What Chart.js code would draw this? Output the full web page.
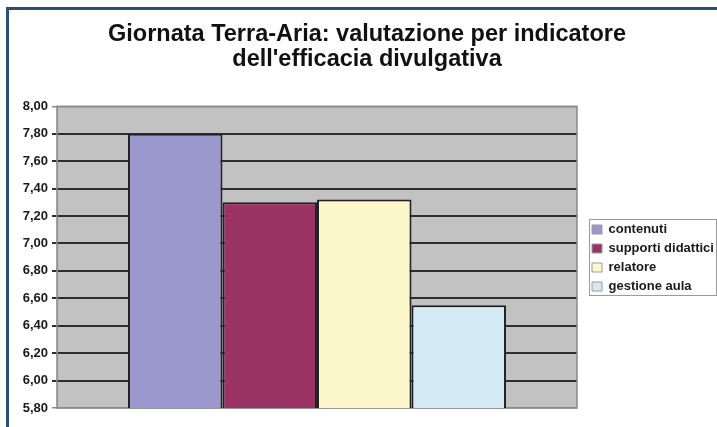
<!DOCTYPE html>
<html>
<head>
<meta charset="utf-8">
<script src="https://cdn.jsdelivr.net/npm/chart.js@4.4.1/dist/chart.umd.min.js"></script>
<style>
  html, body { margin: 0; padding: 0; background: #ffffff; }
  #wrap { position: relative; width: 717px; height: 427px; }
  #frame { position: absolute; left: 6px; top: 7px; right: 0; bottom: 0;
           border-top: 3px solid #2b5078; border-left: 3px solid #2b5078; pointer-events: none; }
</style>
</head>
<body>
<div id="wrap">
  <canvas id="c" width="717" height="427"></canvas>
  <div id="frame"></div>
</div>
<script>
// ---- data ----
const titleLines = ["Giornata Terra-Aria: valutazione per indicatore", "dell'efficacia divulgativa"];
const categories = [""];
const seriesNames = ["contenuti", "supporti didattici", "relatore", "gestione aula"];
const seriesValues = [7.80, 7.30, 7.32, 6.55];
const seriesColors = ["#9a98cc", "#9c3365", "#fcf8cc", "#d3ecf4"];
const yTicks = [5.80, 6.00, 6.20, 6.40, 6.60, 6.80, 7.00, 7.20, 7.40, 7.60, 7.80, 8.00];

const datasets = seriesNames.map((name, i) => ({
  label: name,
  data: [seriesValues[i]],
  backgroundColor: seriesColors[i],
  borderColor: "#222222",
  borderWidth: 2,
  borderSkipped: false
}));

const LEG = { left: 586, top: 206, right: 717, bottom: 310 };

const framePlugin = {
  id: "framePlugin",
  beforeLayout(chart) {
    const lg = chart.legend;
    if (lg && !lg._patched) {
      const f = lg.fit.bind(lg);
      lg.fit = function () { f(); this.width = 140; };
      lg._patched = true;
    }
  },
  afterLayout(chart) {
    const lg = chart.legend;
    if (lg) {
      lg.left = LEG.left; lg.right = LEG.right; lg.top = LEG.top; lg.bottom = LEG.bottom;
      lg.width = LEG.right - LEG.left; lg.height = LEG.bottom - LEG.top;
    }
  },
  beforeDraw(chart) {
    const { ctx, chartArea: a } = chart;
    ctx.save();
    ctx.fillStyle = "#c2c2c2";
    ctx.fillRect(a.left, a.top, a.right - a.left, a.bottom - a.top);
    ctx.restore();
  },
  beforeDatasetsDraw(chart) {
    const { ctx, chartArea: a } = chart;
    ctx.save();
    ctx.strokeStyle = "#8a8a8a";
    ctx.lineWidth = 1.5;
    ctx.strokeRect(a.left, a.top, a.right - a.left, a.bottom - a.top);
    ctx.restore();
  },
  afterDraw(chart) {
    const { ctx } = chart;
    ctx.save();
    ctx.strokeStyle = "#9a9a9a";
    ctx.lineWidth = 1;
    ctx.strokeRect(589.5, 219.5, 127, 76);
    ctx.restore();
  }
};

new Chart(document.getElementById("c"), {
  type: "bar",
  data: { labels: categories, datasets: datasets },
  plugins: [framePlugin],
  options: {
    responsive: false,
    animation: false,
    devicePixelRatio: 1,
    layout: { padding: { left: 17, right: 0, top: 9, bottom: 19 } },
    datasets: { bar: { categoryPercentage: 0.727, barPercentage: 1.0 } },
    plugins: {
      tooltip: { enabled: false },
      title: {
        display: true,
        text: titleLines,
        color: "#111111",
        font: { family: "Liberation Sans, Arial, sans-serif", size: 23.5, weight: "bold", lineHeight: 1.07 },
        padding: { top: 13, bottom: 34 }
      },
      legend: {
        display: true,
        position: "right",
        align: "center",
        labels: {
          color: "#1a1a1a",
          font: { family: "Liberation Sans, Arial, sans-serif", size: 13, weight: "bold" },
          boxWidth: 10,
          boxHeight: 9,
          padding: 6,
          generateLabels(chart) {
            return chart.data.datasets.map((ds, i) => ({
              text: ds.label,
              fillStyle: ds.backgroundColor,
              strokeStyle: "#9a9a9a",
              lineWidth: 1,
              hidden: false,
              datasetIndex: i,
              fontColor: "#1a1a1a"
            }));
          }
        }
      }
    },
    scales: {
      x: {
        display: false,
        grid: { display: false }
      },
      y: {
        min: yTicks[0],
        max: yTicks[yTicks.length - 1],
        afterBuildTicks(axis) { axis.ticks = yTicks.map(v => ({ value: v })); },
        afterFit(axis) { axis.width = 40; },
        border: { display: true, color: "#8a8a8a", width: 1 },
        grid: {
          color: (c) => (c.tick && (Math.abs(c.tick.value - 8) < 1e-6 || Math.abs(c.tick.value - 5.8) < 1e-6)) ? "#8a8a8a" : "#2e2e2e",
          lineWidth: (c) => (c.tick && (Math.abs(c.tick.value - 8) < 1e-6 || Math.abs(c.tick.value - 5.8) < 1e-6)) ? 1.5 : 2,
          tickLength: 5,
          drawTicks: true
        },
        ticks: {
          color: "#1a1a1a",
          padding: 4,
          font: { family: "Liberation Sans, Arial, sans-serif", size: 13, weight: "bold" },
          callback: (v) => Number(v).toFixed(2).replace(".", ",")
        }
      }
    }
  }
});
</script>
</body>
</html>
